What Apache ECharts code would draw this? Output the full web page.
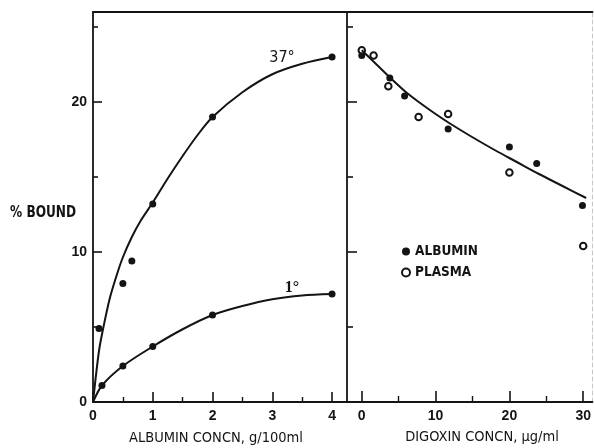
<!DOCTYPE html>
<html>
<head>
<meta charset="utf-8">
<style>
  html, body { margin: 0; padding: 0; background: #fff; }
  #chart { width: 594px; height: 448px; }
</style>
<script src="https://cdn.jsdelivr.net/npm/echarts@6/dist/echarts.min.js"></script>
</head>
<body>
<div id="chart"></div>
<script>
// Left panel: % bound against albumin concentration (g/100ml) at 37° and 1°
const albuminX37 = [0.1, 0.5, 0.65, 1, 2, 4];
const bound37 = [4.9, 7.9, 9.4, 13.2, 19.0, 23.0];
const albuminX1 = [0.15, 0.5, 1, 2, 4];
const bound1 = [1.1, 2.4, 3.7, 5.8, 7.2];

// Hand-drawn saturation curves through the left-panel points
const fit37X = [0, 0.1, 0.17, 0.28, 0.4, 0.5, 0.65, 0.8, 1, 1.25, 1.5, 1.75, 2, 2.5, 3, 3.5, 4];
const fit37Y = [0, 3.4, 4.9, 6.9, 8.5, 9.65, 11.0, 12.1, 13.3, 14.9, 16.4, 17.8, 19.0, 20.65, 21.85, 22.55, 23.0];
const fit1X = [0, 0.15, 0.5, 1, 1.5, 2, 2.5, 3, 3.5, 4];
const fit1Y = [0, 1.1, 2.4, 3.7, 4.85, 5.8, 6.4, 6.85, 7.1, 7.2];

// Right panel: % bound against digoxin concentration (µg/ml)
const digoxinAlbX = [0, 3.8, 5.8, 11.7, 20, 23.7, 29.9];
const digoxinAlbY = [23.1, 21.6, 20.4, 18.2, 17.0, 15.9, 13.1];
const digoxinPlasX = [0, 1.6, 3.6, 7.7, 11.7, 20, 30];
const digoxinPlasY = [23.45, 23.1, 21.05, 19.0, 19.2, 15.3, 10.4];
const fitDigX = [0, 2, 4, 6, 8, 10, 12, 15, 18, 21, 24, 27, 30.4];
const fitDigY = [23.45, 22.5, 21.55, 20.65, 19.9, 19.2, 18.55, 17.65, 16.8, 16.0, 15.2, 14.45, 13.6];

// Tick values
const albuminTicks = [0, 1, 2, 3, 4];
const albuminMinor = [0.5, 1.5, 2.5, 3.5];
const digoxinTicks = [0, 10, 20, 30];
const digoxinMinor = [5, 15, 25];
const boundLabels = [0, 10, 20];
const boundMajor = [10, 20];
const boundMinor = [5, 15, 25];

const seriesNames = ['ALBUMIN', 'PLASMA'];

const pairs = (xs, ys) => xs.map((x, i) => [x, ys[i]]);

const INK = '#141414';
const SANS = "'Liberation Sans', Arial, sans-serif";
const COND = "'DejaVu Sans Condensed', 'DejaVu Sans', sans-serif";

const axisLine = { show: true, onZero: false, lineStyle: { color: INK, width: 1.8 } };
const noLine = { show: false, onZero: false };
const tickLabel = { color: INK, fontFamily: SANS, fontWeight: 'bold', fontSize: 14 };

function xMajor(grid, min, max, ticks, len) {
  return {
    type: 'value', gridIndex: grid, min: min, max: max, position: 'bottom',
    axisLine: axisLine,
    axisTick: { show: true, inside: true, length: len, customValues: ticks, lineStyle: { color: INK, width: 1.6 } },
    axisLabel: Object.assign({ show: true, customValues: ticks, margin: 7 }, tickLabel),
    splitLine: { show: false }
  };
}
function xMinor(grid, min, max, ticks, len) {
  return {
    type: 'value', gridIndex: grid, min: min, max: max, position: 'bottom',
    axisLine: noLine,
    axisTick: { show: true, inside: true, length: len, customValues: ticks, lineStyle: { color: INK, width: 1.4 } },
    axisLabel: { show: false }, splitLine: { show: false }
  };
}
function xTop(grid, min, max) {
  return {
    type: 'value', gridIndex: grid, min: min, max: max, position: 'top',
    axisLine: { show: true, onZero: false, lineStyle: { color: INK, width: 2 } },
    axisTick: { show: false }, axisLabel: { show: false }, splitLine: { show: false }
  };
}
function yAxisDef(grid, ticks, len, labels, line, position) {
  return {
    type: 'value', gridIndex: grid, min: 0, max: 26, position: position || 'left',
    axisLine: line,
    axisTick: { show: !!ticks, inside: true, length: len, customValues: ticks || [], lineStyle: { color: INK, width: 1.6 } },
    axisLabel: labels ? Object.assign({ show: true, customValues: labels, margin: 6 }, tickLabel) : { show: false },
    splitLine: { show: false }
  };
}

const chart = echarts.init(document.getElementById('chart'), null, { renderer: 'canvas' });

const dot = { color: INK, opacity: 1 };
const ring = { color: INK, borderColor: INK, borderWidth: 1.8, opacity: 1 };

chart.setOption({
  animation: false,
  backgroundColor: '#fff',
  grid: [
    { left: 93, top: 12, width: 254, height: 390 },
    { left: 347, top: 12, width: 246, height: 390 }
  ],
  xAxis: [
    xMajor(0, 0, 4.25, albuminTicks, 10),
    xMinor(0, 0, 4.25, albuminMinor, 5),
    xTop(0, 0, 4.25),
    xMajor(1, -2, 31.25, digoxinTicks, 11),
    xMinor(1, -2, 31.25, digoxinMinor, 6),
    xTop(1, -2, 31.25)
  ],
  yAxis: [
    yAxisDef(0, boundMajor, 9, boundLabels, axisLine),
    yAxisDef(0, boundMinor, 5, null, noLine),
    yAxisDef(1, boundMajor, 10, null, axisLine),
    yAxisDef(1, boundMinor, 6, null, noLine),
    yAxisDef(1, null, 0, null, { show: true, onZero: false, lineStyle: { color: '#c8c8c8', width: 1, type: [4, 3] } }, 'right')
  ],
  legend: {
    left: 401, top: 244, orient: 'vertical', padding: 0,
    itemWidth: 8, itemHeight: 8, itemGap: 6,
    data: [
      { name: seriesNames[0], icon: 'circle', itemStyle: dot },
      { name: seriesNames[1], icon: 'emptyCircle', itemStyle: { color: INK, borderColor: INK, borderWidth: 1.6 } }
    ],
    textStyle: { color: INK, fontFamily: COND, fontWeight: 'bold', fontSize: 13.5, lineHeight: 15 },
    selectedMode: false
  },
  series: [
    { type: 'line', xAxisIndex: 0, yAxisIndex: 0, data: pairs(fit37X, fit37Y), smooth: 0.3, showSymbol: false,
      lineStyle: { color: INK, width: 2 }, silent: true },
    { type: 'line', xAxisIndex: 0, yAxisIndex: 0, data: pairs(fit1X, fit1Y), smooth: 0.3, showSymbol: false,
      lineStyle: { color: INK, width: 2 }, silent: true },
    { type: 'scatter', xAxisIndex: 0, yAxisIndex: 0, data: pairs(albuminX37, bound37), symbol: 'circle', symbolSize: 7, itemStyle: dot },
    { type: 'scatter', xAxisIndex: 0, yAxisIndex: 0, data: pairs(albuminX1, bound1), symbol: 'circle', symbolSize: 7, itemStyle: dot },
    { type: 'line', xAxisIndex: 3, yAxisIndex: 2, data: pairs(fitDigX, fitDigY), smooth: 0.3, showSymbol: false,
      lineStyle: { color: INK, width: 2 }, silent: true },
    { name: seriesNames[0], type: 'scatter', xAxisIndex: 3, yAxisIndex: 2, data: pairs(digoxinAlbX, digoxinAlbY),
      symbol: 'circle', symbolSize: 7, itemStyle: dot },
    { name: seriesNames[1], type: 'scatter', xAxisIndex: 3, yAxisIndex: 2, data: pairs(digoxinPlasX, digoxinPlasY),
      symbol: 'emptyCircle', symbolSize: 6.5, itemStyle: ring }
  ],
  graphic: [
    { type: 'text', x: 10, y: 213, scaleX: 0.9, style: { text: '% BOUND', fill: INK, font: "bold 15px " + COND, verticalAlign: 'middle' } },
    { type: 'text', x: 216, y: 438, style: { text: 'ALBUMIN CONCN, g/100ml', fill: INK, font: "14.5px " + COND, align: 'center', verticalAlign: 'middle' } },
    { type: 'text', x: 482, y: 437, style: { text: 'DIGOXIN CONCN, µg/ml', fill: INK, font: "14.5px " + COND, align: 'center', verticalAlign: 'middle' } },
    { type: 'text', x: 282, y: 58, style: { text: '37°', fill: INK, font: "16px " + COND, align: 'center', verticalAlign: 'middle' } },
    { type: 'text', x: 292, y: 288, style: { text: '1°', fill: INK, font: "bold 16px 'Liberation Serif', 'DejaVu Serif', serif", align: 'center', verticalAlign: 'middle' } }
  ]
});
</script>
</body>
</html>
